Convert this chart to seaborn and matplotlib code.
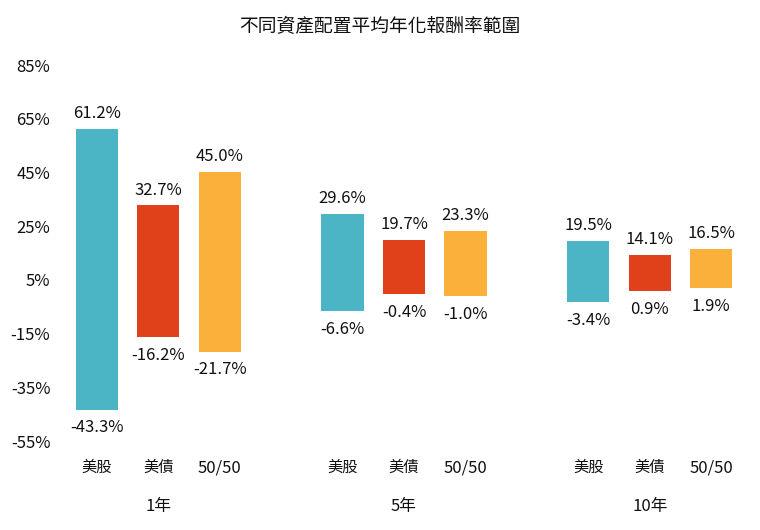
#!/usr/bin/env python3
"""Floating range bars: annualised return ranges by asset mix and horizon."""

import matplotlib
matplotlib.use("Agg")
import pandas as pd
import seaborn as sns
from matplotlib import pyplot as plt
from matplotlib import transforms

# Data
horizons = ["1年", "5年", "10年"]
assets = ["美股", "美債", "50/50"]
high_stock = [61.2, 29.6, 19.5]
low_stock = [-43.3, -6.6, -3.4]
high_bond = [32.7, 19.7, 14.1]
low_bond = [-16.2, -0.4, 0.9]
high_mix = [45.0, 23.3, 16.5]
low_mix = [-21.7, -1.0, 1.9]
yticks = [85, 65, 45, 25, 5, -15, -35, -55]

colors = {"美股": "#4bb4c5", "美債": "#e0411b", "50/50": "#fbb03b"}

sns.set_theme(style="white")
plt.rcParams["font.family"] = ["Noto Sans CJK TC", "DejaVu Sans"]

# 11 slots: three per horizon plus an empty spacer between horizons
slots = []
for i, h in enumerate(horizons):
    slots += [f"{h}|{a}" for a in assets]
    if i < len(horizons) - 1:
        slots.append(f"gap{i}")

highs = {"美股": high_stock, "美債": high_bond, "50/50": high_mix}
lows = {"美股": low_stock, "美債": low_bond, "50/50": low_mix}

rows = []
for a in assets:
    for h, hi, lo in zip(horizons, highs[a], lows[a]):
        rows.append({"slot": f"{h}|{a}", "asset": a, "high": hi, "low": lo,
                     "span": hi - lo})
df = pd.DataFrame(rows)

fig = plt.figure(figsize=(7.6, 5.3), dpi=100)
ax = fig.add_axes([60 / 760, 1 - 441 / 530, 680 / 760, (441 - 65) / 530])

for a in assets:
    sub = df[df["asset"] == a]
    sns.barplot(data=sub, x="slot", y="span", order=slots, ax=ax,
                color=colors[a], saturation=1, width=0.69, errorbar=None,
                bottom=sub["low"].values, linewidth=0)

FS = 12
# value labels above and below each bar
pos = {s: i for i, s in enumerate(slots)}
for _, r in df.iterrows():
    x = pos[r["slot"]]
    ax.annotate(f"{r['high']:.1f}%", (x, r["high"]), xytext=(0, 5),
                textcoords="offset points", ha="center", va="bottom",
                fontsize=FS, color="#111111")
    ax.annotate(f"{r['low']:.1f}%", (x, r["low"]), xytext=(0, -7),
                textcoords="offset points", ha="center", va="top",
                fontsize=FS, color="#111111")

ax.set_xlim(-0.6, 10.47)
ax.set_ylim(-55, 85)
ax.set_yticks(yticks)
ax.set_yticklabels([f"{t}%" for t in yticks], fontsize=FS, color="#111111")
ax.set_xticks(range(len(slots)))
ax.set_xticklabels([s.split("|")[1] if "|" in s else "" for s in slots],
                   fontsize=FS, color="#111111")
# Chinese asset names are drawn a touch smaller than the numbers
for lab in ax.get_xticklabels():
    if lab.get_text() in ("美股", "美債"):
        lab.set_fontsize(11)
ax.tick_params(axis="x", length=0, pad=13)
ax.tick_params(axis="y", length=0, pad=7)
ax.set_xlabel("")
ax.set_ylabel("")
for sp in ax.spines.values():
    sp.set_visible(False)

# horizon labels under each group
trans = transforms.blended_transform_factory(ax.transData, fig.transFigure)
for h in horizons:
    x = pos[f"{h}|美債"]
    ax.text(x, 1 - 507 / 530, h, transform=trans, ha="center", va="center",
            fontsize=FS, color="#111111")

fig.text(0.5, 1 - 27 / 530, "不同資產配置平均年化報酬率範圍", ha="center",
         va="center", fontsize=13.5, color="#111111", weight="medium")

fig.savefig("out.png", dpi=100, facecolor="white")
plt.close(fig)
